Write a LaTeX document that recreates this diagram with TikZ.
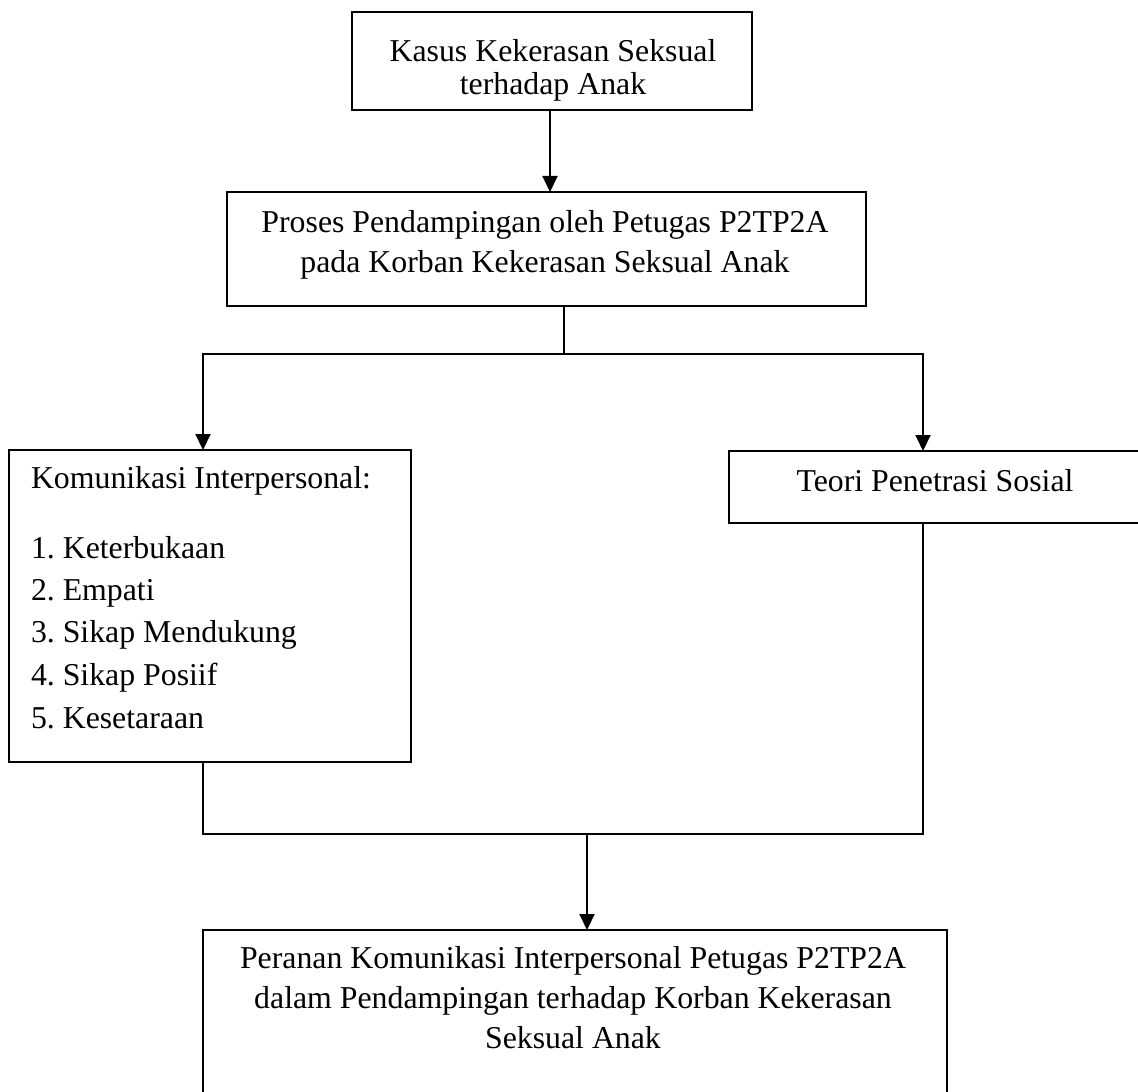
\documentclass[tikz,border=0pt]{standalone}
\usepackage{fontspec}
\setmainfont{Liberation Serif}
\usetikzlibrary{arrows.meta}
\begin{document}
\begin{tikzpicture}[x=0.5pt,y=-0.5pt,
  box/.style={draw=black, line width=1pt, inner sep=0pt, outer sep=0pt, fill=none},
  txt/.style={inner sep=0pt, outer sep=0pt, font=\fontsize{15.9}{19}\selectfont\frenchspacing},
  conn/.style={draw=black, line width=1pt},
  arr/.style={conn, -{Triangle[width=7.5pt,length=8pt]}}]
\useasboundingbox[fill=white] (0,0) rectangle (1138,1091);
% boxes
\node[box, minimum width=200pt, minimum height=49pt] (b1) at (552,61) {};
\node[box, minimum width=319.5pt, minimum height=57pt] (b2) at (546.5,249) {};
\node[box, minimum width=201pt, minimum height=156pt] (b3) at (210,606) {};
\node[box, minimum width=206pt, minimum height=36pt] (b4) at (935,487) {};
\node[box, minimum width=372pt, minimum height=82pt] (b5) at (575,1012) {};
% texts
\node[txt, anchor=base] (t1a) at (553,62) {Kasus Kekerasan Seksual};
\node[txt, anchor=base] (t1b) at (553,95) {terhadap Anak};
\node[txt, anchor=base] (t2a) at (545,232) {Proses Pendampingan oleh Petugas P2TP2A};
\node[txt, anchor=base] (t2b) at (545,272) {pada Korban Kekerasan Seksual Anak};
\node[txt, anchor=base west] (t3) at (31,488) {Komunikasi Interpersonal:};
\node[txt, anchor=base west] (t3a) at (31,558) {1. Keterbukaan};
\node[txt, anchor=base west] (t3b) at (31,600) {2. Empati};
\node[txt, anchor=base west] (t3c) at (31,642) {3. Sikap Mendukung};
\node[txt, anchor=base west] (t3d) at (31,685) {4. Sikap Posiif};
\node[txt, anchor=base west] (t3e) at (31,728) {5. Kesetaraan};
\node[txt, anchor=base] (t4) at (935,491) {Teori Penetrasi Sosial};
\node[txt, anchor=base] (t5a) at (573,968) {Peranan Komunikasi Interpersonal Petugas P2TP2A};
\node[txt, anchor=base] (t5b) at (573,1008) {dalam Pendampingan terhadap Korban Kekerasan};
\node[txt, anchor=base] (t5c) at (573,1048) {Seksual Anak};
% junction points
\coordinate (j1) at (564,354);
\coordinate (jl) at (203,354);
\coordinate (jr) at (923,354);
\coordinate (kl) at (203,834);
\coordinate (kr) at (923,834);
\coordinate (km) at (587,834);
% connectors
\draw[arr] (b1.south -| 550,0) -- (b2.north -| 550,0);
\draw[conn] (j1 |- b2.south) -- (j1);
\draw[conn, line cap=rect] (jl) -- (jr);
\draw[arr] (jl) -- (jl |- b3.north);
\draw[arr] (jr) -- (jr |- b4.north);
\draw[conn, line join=miter] (kl |- b3.south) -- (kl) -- (kr) -- (kr |- b4.south);
\draw[arr] (km) -- (km |- b5.north);
\end{tikzpicture}
\end{document}
